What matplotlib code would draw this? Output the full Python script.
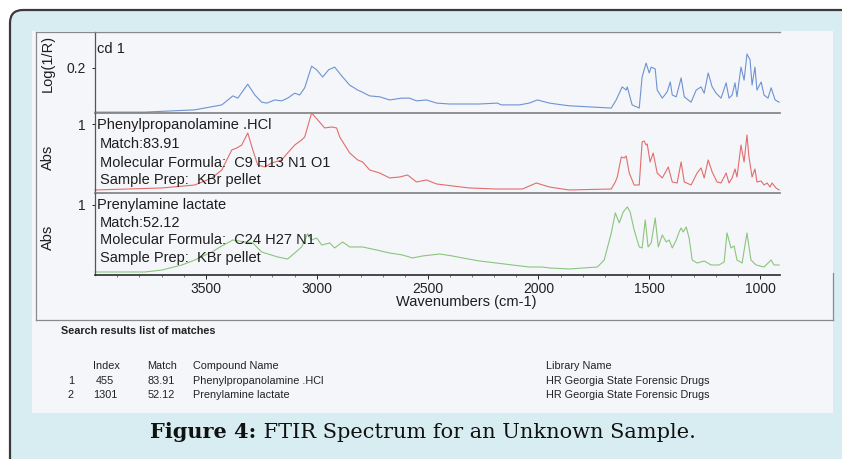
import numpy as np
import matplotlib
matplotlib.use('Agg')
import matplotlib.pyplot as plt
from matplotlib.patches import FancyBboxPatch, Rectangle
from matplotlib.lines import Line2D
from matplotlib import font_manager

W, H = 842, 459

# unknown sample, log(1/R) against wavenumber (cm-1)
wn_sample = [4000, 3775, 3550, 3428, 3378, 3356, 3311, 3279, 3248, 3225,
             3189, 3158, 3131, 3099, 3077, 3054, 3023, 3000, 2973, 2946,
             2919, 2883, 2851, 2815, 2797, 2761, 2716, 2671, 2617, 2581,
             2550, 2505, 2459, 2401, 2266, 2185, 2167, 2086, 2041, 2005,
             1950, 1892, 1860, 1671, 1649, 1622, 1604, 1599, 1577, 1545,
             1532, 1514, 1500, 1491, 1473, 1464, 1441, 1419, 1405, 1396,
             1378, 1356, 1342, 1311, 1288, 1266, 1252, 1234, 1216, 1198,
             1176, 1153, 1140, 1126, 1113, 1104, 1086, 1072, 1059, 1045,
             1036, 1023, 1014, 995, 982, 964, 950, 932, 914]
lr_sample = [0.102, 0.102, 0.107, 0.118, 0.138, 0.133, 0.164, 0.140, 0.124, 0.122,
             0.129, 0.127, 0.133, 0.144, 0.140, 0.156, 0.204, 0.196, 0.180, 0.196,
             0.202, 0.180, 0.162, 0.151, 0.147, 0.138, 0.136, 0.129, 0.133, 0.133,
             0.127, 0.129, 0.122, 0.120, 0.120, 0.122, 0.118, 0.118, 0.122, 0.129,
             0.122, 0.118, 0.116, 0.111, 0.129, 0.158, 0.151, 0.158, 0.118, 0.111,
             0.180, 0.211, 0.189, 0.202, 0.198, 0.151, 0.133, 0.147, 0.169, 0.140,
             0.136, 0.178, 0.136, 0.124, 0.151, 0.158, 0.144, 0.189, 0.158, 0.144,
             0.133, 0.167, 0.133, 0.140, 0.167, 0.136, 0.202, 0.173, 0.231, 0.218,
             0.162, 0.202, 0.151, 0.169, 0.140, 0.133, 0.156, 0.129, 0.124]

# library match 1: Phenylpropanolamine .HCl (Abs)
wn_ppa = [4000, 3851, 3698, 3550, 3473, 3428, 3383, 3360, 3338, 3311,
          3288, 3266, 3234, 3203, 3158, 3131, 3099, 3068, 3054, 3023,
          2995, 2964, 2932, 2910, 2896, 2851, 2815, 2793, 2761, 2716,
          2671, 2626, 2590, 2550, 2505, 2459, 2387, 2311, 2189, 2072,
          2009, 1950, 1892, 1860, 1671, 1653, 1644, 1626, 1613, 1604,
          1590, 1568, 1545, 1532, 1523, 1514, 1509, 1496, 1482, 1464,
          1441, 1414, 1396, 1374, 1356, 1342, 1311, 1284, 1266, 1252,
          1234, 1216, 1194, 1176, 1153, 1140, 1126, 1113, 1104, 1086,
          1072, 1059, 1050, 1036, 1023, 1014, 995, 982, 968, 955,
          946, 928, 914]
abs_ppa = [0.044, 0.058, 0.073, 0.116, 0.218, 0.334, 0.624, 0.653, 0.696, 0.870,
           0.624, 0.406, 0.377, 0.435, 0.479, 0.580, 0.696, 0.769, 0.812, 1.160,
           1.059, 0.943, 0.957, 0.943, 0.812, 0.580, 0.479, 0.450, 0.334, 0.290,
           0.218, 0.232, 0.261, 0.160, 0.189, 0.131, 0.102, 0.073, 0.058, 0.058,
           0.145, 0.087, 0.058, 0.044, 0.058, 0.160, 0.232, 0.522, 0.508, 0.537,
           0.290, 0.116, 0.116, 0.740, 0.754, 0.696, 0.711, 0.450, 0.580, 0.290,
           0.218, 0.377, 0.160, 0.145, 0.450, 0.160, 0.116, 0.290, 0.363, 0.218,
           0.479, 0.305, 0.160, 0.145, 0.290, 0.145, 0.218, 0.348, 0.232, 0.696,
           0.450, 0.841, 0.522, 0.232, 0.348, 0.160, 0.174, 0.116, 0.145, 0.087,
           0.145, 0.073, 0.044]

# library match 2: Prenylamine lactate (Abs)
wn_pren = [4000, 3775, 3698, 3608, 3550, 3473, 3428, 3378, 3324, 3288,
           3248, 3176, 3131, 3099, 3068, 3041, 3023, 3000, 2977, 2941,
           2919, 2883, 2851, 2793, 2730, 2671, 2613, 2568, 2523, 2446,
           2387, 2342, 2266, 2189, 2117, 2041, 1982, 1950, 1860, 1734,
           1703, 1671, 1653, 1635, 1617, 1599, 1586, 1568, 1545, 1532,
           1518, 1505, 1491, 1473, 1459, 1441, 1423, 1410, 1396, 1378,
           1365, 1356, 1347, 1333, 1320, 1306, 1284, 1252, 1221, 1185,
           1162, 1149, 1131, 1117, 1104, 1081, 1059, 1041, 1018, 982,
           950, 937, 914]
abs_pren = [0.043, 0.043, 0.071, 0.143, 0.214, 0.328, 0.414, 0.500, 0.471, 0.457,
            0.328, 0.257, 0.228, 0.314, 0.400, 0.586, 0.500, 0.528, 0.428, 0.457,
            0.386, 0.471, 0.400, 0.400, 0.357, 0.314, 0.286, 0.243, 0.271, 0.300,
            0.271, 0.243, 0.200, 0.171, 0.143, 0.114, 0.114, 0.100, 0.086, 0.114,
            0.214, 0.600, 0.885, 0.743, 0.900, 0.971, 0.900, 0.643, 0.400, 0.386,
            0.785, 0.400, 0.457, 0.814, 0.400, 0.571, 0.471, 0.500, 0.386, 0.500,
            0.614, 0.671, 0.614, 0.685, 0.528, 0.214, 0.171, 0.200, 0.143, 0.143,
            0.186, 0.600, 0.386, 0.414, 0.214, 0.171, 0.600, 0.214, 0.143, 0.114,
            0.214, 0.143, 0.143]

x_ticks = [3500, 3000, 2500, 2000, 1500, 1000]

# search results table
row_no = ['1', '2']
match_index = ['455', '1301']
match_score = ['83.91', '52.12']
match_names = ['Phenylpropanolamine .HCl', 'Prenylamine lactate']
match_library = ['HR Georgia State Forensic Drugs', 'HR Georgia State Forensic Drugs']

names = {f.name for f in font_manager.fontManager.ttflist}
narrow = 'Liberation Sans Narrow' if 'Liberation Sans Narrow' in names else 'Liberation Sans'
plt.rcParams['font.family'] = 'Liberation Sans'


def box(x0, y0, x1, y1):
    return [x0 / W, 1 - y1 / H, (x1 - x0) / W, (y1 - y0) / H]


def fx(x):
    return x / W


def fy(y):
    return 1 - y / H


fig = plt.figure(figsize=(8.42, 4.59), dpi=100, facecolor='white')

# rounded light blue card and the scanned sheet (kept behind the axes)
card = FancyBboxPatch((0.10, -0.3), 8.6, 4.79, boxstyle='round,pad=0,rounding_size=0.13',
                      transform=fig.dpi_scale_trans, facecolor='#d7edf2',
                      edgecolor='#3a3a3a', linewidth=1.6, zorder=-20)
fig.patches.append(card)
sheet = Rectangle((0.32, 0.46), 8.01, 3.82, transform=fig.dpi_scale_trans,
                  facecolor='#f5f6f9', edgecolor='none', zorder=-10)
fig.patches.append(sheet)

# outer frame of the printout
frame_col = '#8a8a8a'
for (xa, ya, xb, yb) in [(36, 32, 36, 320), (36, 32, 780, 32), (36, 320, 833, 320), (833, 273, 833, 320)]:
    fig.lines.append(Line2D([fx(xa), fx(xb)], [fy(ya), fy(yb)], transform=fig.transFigure,
                            color=frame_col, linewidth=0.9, zorder=-5))

panels = [
    (box(95, 32, 780, 113), wn_sample, lr_sample, '#6d93d3', (0.10, 0.28), [0.2], ['0.2']),
    (box(95, 113, 780, 193), wn_ppa, abs_ppa, '#e26d6d', (0.0, 1.16), [1], ['1']),
    (box(95, 193, 780, 275), wn_pren, abs_pren, '#8cc47e', (0.0, 1.17), [1], ['1']),
]
axes = []
for i, (rect, xs, ys, col, ylim, yt, ytl) in enumerate(panels):
    ax = fig.add_axes(rect)
    ax.set_facecolor('none')
    ax.plot(xs, ys, color=col, linewidth=0.8, clip_on=False)
    ax.set_xlim(4000, 910)
    ax.set_ylim(*ylim)
    ax.set_yticks(yt)
    ax.set_yticklabels(ytl)
    ax.tick_params(axis='y', length=2.5, width=0.7, pad=4, labelsize=10, colors='#222222')
    ax.spines['right'].set_visible(False)
    ax.spines['left'].set_color('#555555')
    ax.spines['left'].set_linewidth(0.9)
    ax.spines['top'].set_visible(i == 0)
    ax.spines['top'].set_color(frame_col)
    ax.spines['bottom'].set_color('#7f7f7f' if i < 2 else '#2a2a2a')
    ax.spines['bottom'].set_linewidth(1.2)
    if i < 2:
        ax.set_xticks([])
    else:
        ax.set_xticks(x_ticks)
        ax.set_xticklabels([str(t) for t in x_ticks])
        ax.set_xticks(np.arange(1000, 4000, 100), minor=True)
        ax.tick_params(axis='x', which='major', length=3, width=0.7, pad=2, labelsize=10,
                       colors='#222222')
        ax.tick_params(axis='x', which='minor', length=1.5, width=0.5, colors='#444444')
    axes.append(ax)

txt = dict(color='#1e1e1e', va='center', ha='left', fontsize=10.5)
fig.text(fx(48), fy(63), 'Log(1/R)', rotation=90, ha='center', va='center', fontsize=10.5, color='#1e1e1e')
fig.text(fx(48), fy(157), 'Abs', rotation=90, ha='center', va='center', fontsize=10.5, color='#1e1e1e')
fig.text(fx(48), fy(237), 'Abs', rotation=90, ha='center', va='center', fontsize=10.5, color='#1e1e1e')

fig.text(fx(97), fy(49), 'cd 1', **txt)
fig.text(fx(97), fy(125), match_names[0], **txt)
fig.text(fx(100), fy(144), 'Match:' + match_score[0], **txt)
fig.text(fx(100), fy(163), 'Molecular Formula:  C9 H13 N1 O1', **txt)
fig.text(fx(100), fy(180), 'Sample Prep:  KBr pellet', **txt)
fig.text(fx(97), fy(205), match_names[1], **txt)
fig.text(fx(100), fy(223), 'Match:' + match_score[1], **txt)
fig.text(fx(100), fy(240), 'Molecular Formula:  C24 H27 N1', **txt)
fig.text(fx(100), fy(258), 'Sample Prep:  KBr pellet', **txt)

fig.text(fx(466), fy(302), 'Wavenumbers (cm-1)', ha='center', va='center', fontsize=10.5, color='#1e1e1e')

# search results list
tab = dict(family=narrow, fontsize=7.8, color='#222222', va='center')
fig.text(fx(61), fy(331), 'Search results list of matches', fontweight='bold', **tab)
fig.text(fx(93), fy(366), 'Index', ha='left', **tab)
fig.text(fx(147), fy(366), 'Match', ha='left', **tab)
fig.text(fx(193), fy(366), 'Compound Name', ha='left', **tab)
fig.text(fx(546), fy(366), 'Library Name', ha='left', **tab)
for k, yy in enumerate([381, 395]):
    fig.text(fx(71), fy(yy), row_no[k], ha='center', **tab)
    fig.text(fx(105), fy(yy), match_index[k], ha='center', **tab)
    fig.text(fx(148), fy(yy), match_score[k], ha='left', **tab)
    fig.text(fx(193), fy(yy), match_names[k], ha='left', **tab)
    fig.text(fx(546), fy(yy), match_library[k], ha='left', **tab)

# caption: bold label followed by regular text, centred as one line
cap = dict(family='DejaVu Serif', fontsize=15, color='#111111', va='center')
renderer = fig.canvas.get_renderer()
t1 = fig.text(0, fy(432), 'Figure 4:', fontweight='bold', ha='left', **cap)
t2 = fig.text(0, fy(432), ' FTIR Spectrum for an Unknown Sample.', ha='left', **cap)
w1 = t1.get_window_extent(renderer).width
w2 = t2.get_window_extent(renderer).width
x0 = 423 - (w1 + w2) / 2
t1.set_x(fx(x0))
t2.set_x(fx(x0 + w1))

fig.savefig('out.png', dpi=100, facecolor=fig.get_facecolor())
